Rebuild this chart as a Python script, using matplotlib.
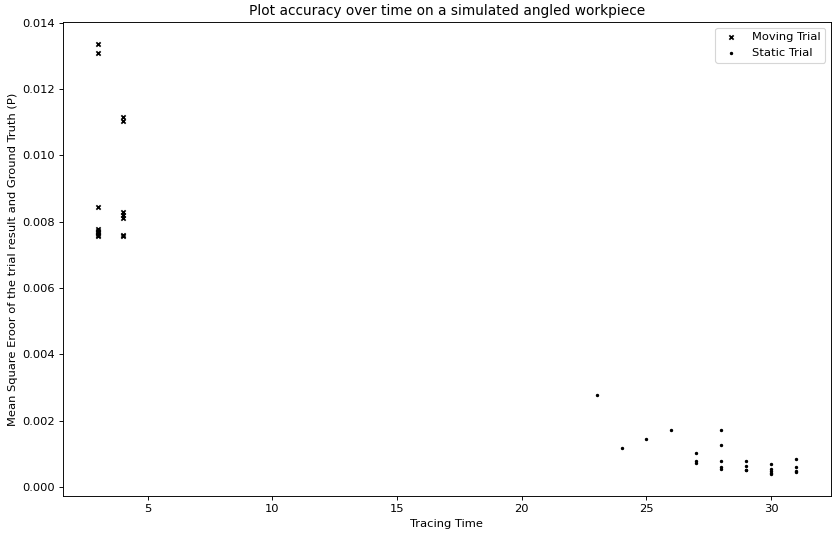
import matplotlib
matplotlib.use("Agg")
import matplotlib.pyplot as plt

# Moving trial: tracing time (s) and MSE
moving_time = [3, 3, 3, 3, 3, 3, 3, 3, 3,
               4, 4, 4, 4, 4, 4, 4]
moving_mse = [0.01337, 0.01307, 0.00843, 0.00778, 0.00772, 0.00766, 0.00760, 0.00756, 0.00770,
              0.01115, 0.01105, 0.00830, 0.00820, 0.00812, 0.00760, 0.00758]

# Static trial: tracing time (s) and MSE
static_time = [23, 24, 25, 26, 27, 27, 27,
               28, 28, 28, 28, 28,
               29, 29, 29, 29,
               30, 30, 30, 30, 30,
               31, 31, 31, 31]
static_mse = [0.00277, 0.00119, 0.00145, 0.00172, 0.00102, 0.00078, 0.00071,
              0.00172, 0.00126, 0.00078, 0.00061, 0.00055,
              0.00080, 0.00063, 0.00051, 0.00050,
              0.00069, 0.00054, 0.00049, 0.00043, 0.00038,
              0.00085, 0.00059, 0.00047, 0.00044]

dpi = 82.7
fig, ax = plt.subplots(figsize=(832 / dpi, 534 / dpi), dpi=dpi)
ax.scatter(moving_time, moving_mse, marker="x", s=14, color="black", linewidths=1.5,
           label="Moving Trial")
ax.scatter(static_time, static_mse, marker=".", s=15, color="black", label="Static Trial")
ax.set_title("Plot accuracy over time on a simulated angled workpiece")
ax.set_xlabel("Tracing Time")
ax.set_ylabel("Mean Square Eroor of the trial result and Ground Truth (P)")
ax.legend(loc="upper right")
fig.subplots_adjust(left=0.0757, right=0.9988, top=0.9588, bottom=0.0712)
fig.savefig("out.png", dpi=dpi)
